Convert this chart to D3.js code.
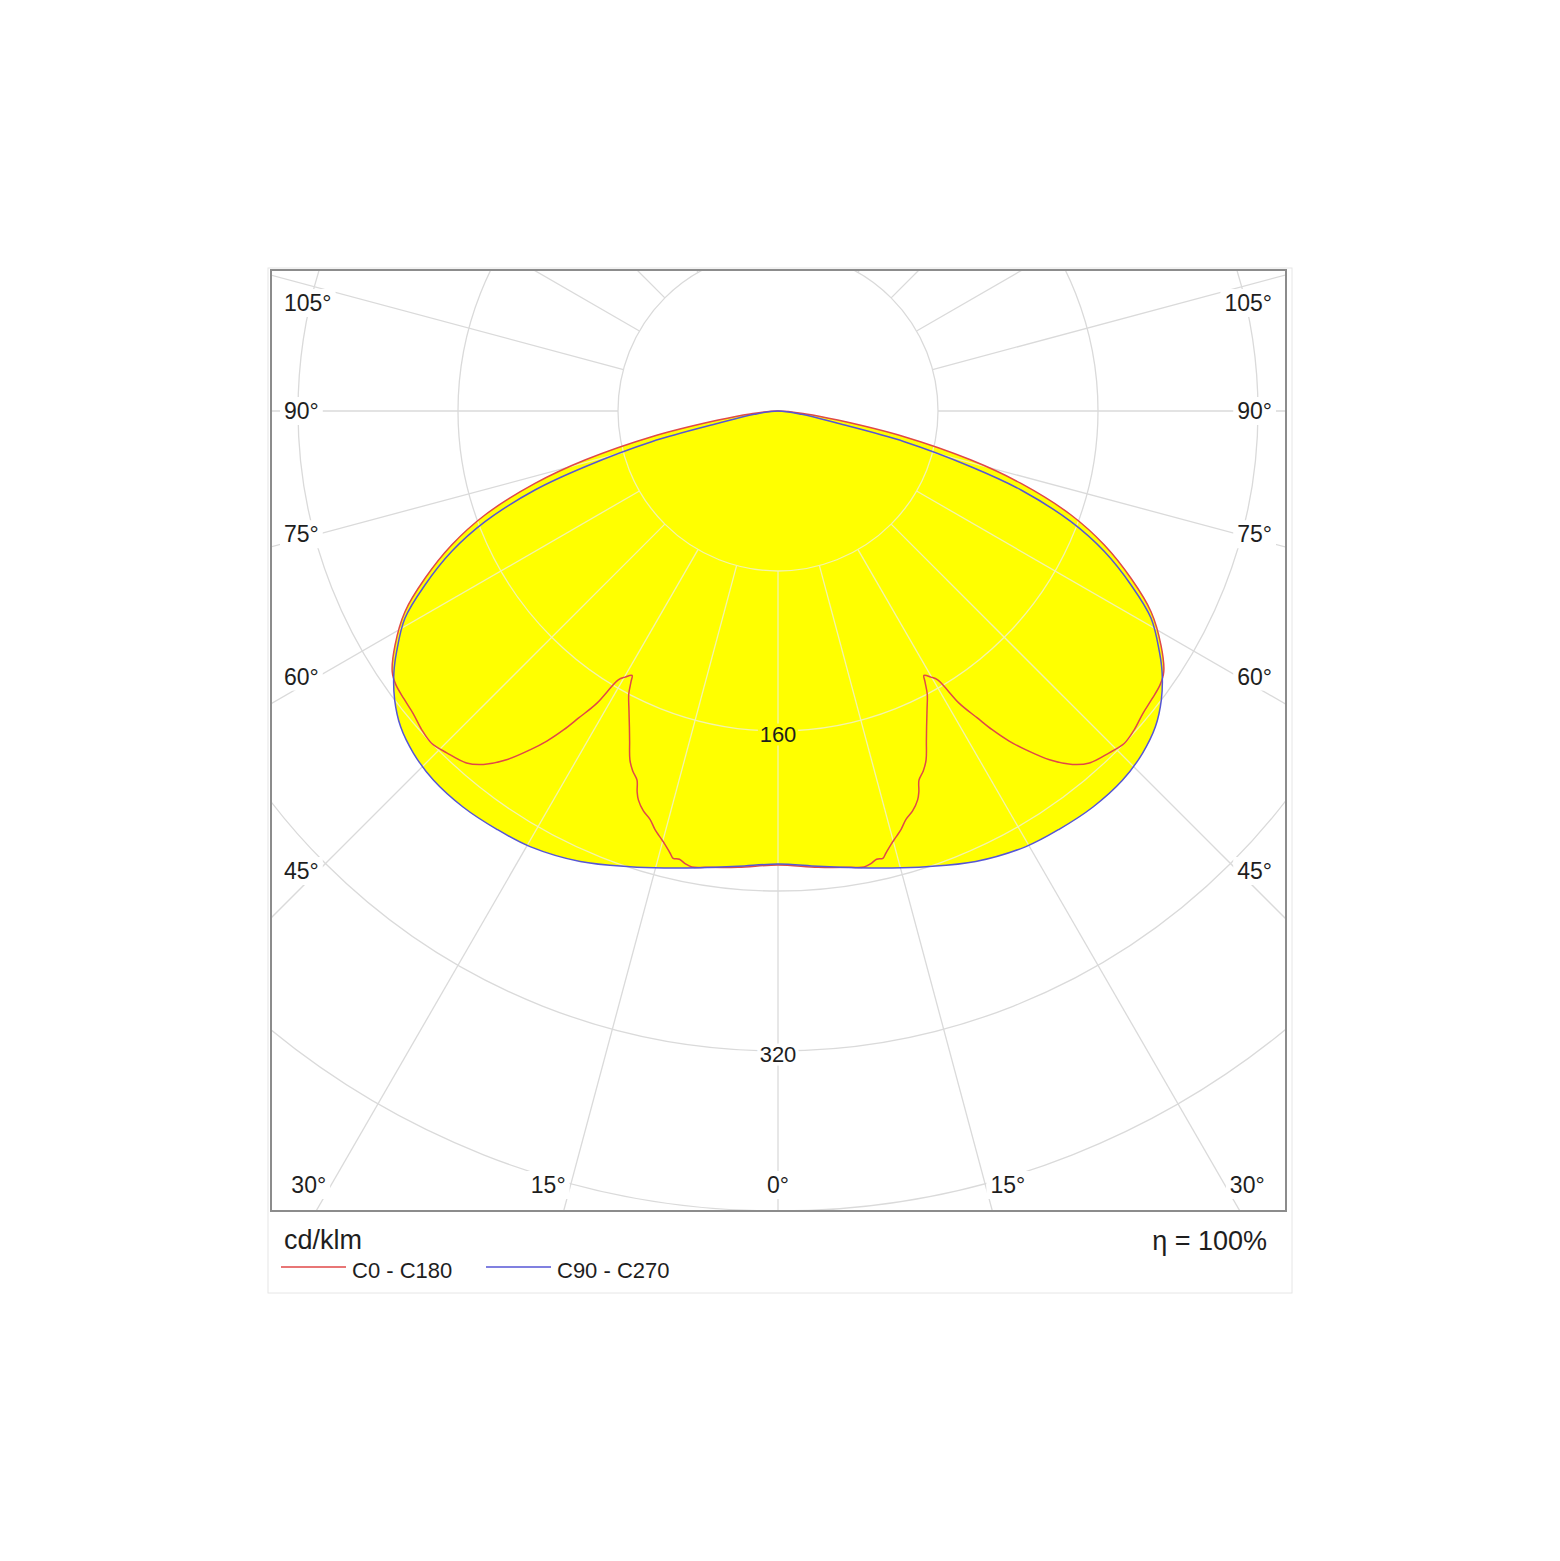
<!DOCTYPE html>
<html>
<head>
<meta charset="utf-8">
<script src="https://cdn.jsdelivr.net/npm/d3@7"></script>
<style>
  body { margin: 0; background: #fff; }
</style>
</head>
<body>
<script>
// luminous intensity, cd/klm, angle gamma measured from nadir (0) to horizontal (90)
const c0Angles = [0, 5, 9, 10.7, 11.6, 12.4, 13.2, 13.7, 14.6, 15.5, 16.4, 17.4, 18.6, 19.75, 20.3, 20.9, 22, 23, 24.2, 25.2,
  26.5, 27.8, 28.5, 28.9, 29.9, 30.7, 31.8, 33, 33.9, 35, 36.2, 37.9, 39.8, 41.5, 44.1, 46.2, 48.2, 50.3, 52.4, 54.4,
  55.95, 58.57, 61.72, 64.64, 67.67, 70.46, 73.4, 75.75, 78.5, 81.4, 84, 90];
const c0Values = [227, 229, 231, 232, 231, 229.5, 229.7, 227.6, 224, 221, 218, 214, 211, 206.6, 203, 197.6, 194, 189.5, 181, 174.5,
  167, 160, 154, 151, 153.5, 156.4, 172, 183, 192, 201.5, 210, 221, 230, 235, 238, 240, 239, 237, 236, 235,
  232.8, 224.4, 211.8, 195.3, 176.4, 155.5, 126.8, 99.6, 64.4, 30.2, 14, 0];

const c90Angles = [0, 5, 9.7, 14, 18, 23.7, 29.65, 33.9, 38.5, 43, 46.8, 50.1, 53, 55.7, 57.74, 60.94, 63.76, 66.7, 69.3, 72, 73.9, 76.34, 78.36, 82, 90];
const c90Values = [226.5, 228.5, 231.7, 235.5, 239.6, 246, 250.6, 252, 253, 252.5, 250, 246, 240, 232.5, 225.5, 213.4, 196.8, 177.7, 156.6, 127.8, 100.4, 65, 30.5, 12, 0];

const radialTicks = [80, 160, 240, 320, 400];
const radialLabels = [160, 320];
const rayAngles = d3.range(0, 181, 15);
const angleLabels = [0, 15, 30, 45, 60, 75, 90, 105];
const legendItems = ['C0 - C180', 'C90 - C270'];
const legendColors = ['#e04848', '#5656d6'];
const unitLabel = 'cd/klm';
const efficiencyLabel = 'η = 100%';

const width = 1560, height = 1561;
const cx = 778, cy = 411;
const frame = { x0: 271, y0: 270, x1: 1286, y1: 1211 };
const font = '"Liberation Sans", Arial, sans-serif';

const rad = (d) => d * Math.PI / 180;
const rScale = d3.scaleLinear().domain([0, 400]).range([0, 800]);

const svg = d3.select('body')
  .append('svg')
  .attr('width', width)
  .attr('height', height);

// outer panel and plot frame
svg.append('rect')
  .attr('x', 268).attr('y', 268)
  .attr('width', 1024).attr('height', 1025)
  .attr('fill', '#fff')
  .attr('stroke', '#e6e6e6');

const defs = svg.append('defs');
defs.append('clipPath').attr('id', 'frameClip')
  .append('rect')
  .attr('x', frame.x0).attr('y', frame.y0)
  .attr('width', frame.x1 - frame.x0).attr('height', frame.y1 - frame.y0);

// closed polar outline: right half 0..90, then left half back down
function outline(angles, values) {
  const right = angles.map((g, i) => [Math.PI - rad(g), rScale(values[i])]);
  const left = [];
  for (let k = angles.length - 2; k >= 1; k--) {
    left.push([Math.PI + rad(angles[k]), rScale(values[k])]);
  }
  return right.concat(left);
}

const lineGen = d3.lineRadial()
  .angle((d) => d[0])
  .radius((d) => d[1])
  .curve(d3.curveCatmullRomClosed.alpha(0.5));

const series = [
  { name: legendItems[0], color: legendColors[0], pts: outline(c0Angles, c0Values) },
  { name: legendItems[1], color: legendColors[1], pts: outline(c90Angles, c90Values) }
];

const fillClip = defs.append('clipPath').attr('id', 'fillClip');
series.forEach((s) => {
  fillClip.append('path')
    .attr('transform', 'translate(' + cx + ',' + cy + ')')
    .attr('d', lineGen(s.pts));
});

const rays = [];
rayAngles.forEach((g) => {
  (g === 0 || g === 180 ? [1] : [-1, 1]).forEach((s) => rays.push({ g: g, s: s }));
});

function drawGrid(g, color) {
  g.selectAll('circle')
    .data(radialTicks)
    .enter()
    .append('circle')
    .attr('cx', cx).attr('cy', cy)
    .attr('r', (d) => rScale(d))
    .attr('fill', 'none')
    .attr('stroke', color)
    .attr('stroke-width', 1.3);

  g.selectAll('line')
    .data(rays)
    .enter()
    .append('line')
    .attr('x1', (d) => cx + d.s * rScale(radialTicks[0]) * Math.sin(rad(d.g)))
    .attr('y1', (d) => cy + rScale(radialTicks[0]) * Math.cos(rad(d.g)))
    .attr('x2', (d) => cx + d.s * rScale(700) * Math.sin(rad(d.g)))
    .attr('y2', (d) => cy + rScale(700) * Math.cos(rad(d.g)))
    .attr('stroke', color)
    .attr('stroke-width', 1.3);
}

const plot = svg.append('g').attr('clip-path', 'url(#frameClip)');

drawGrid(plot.append('g'), '#dadada');

plot.append('g')
  .attr('transform', 'translate(' + cx + ',' + cy + ')')
  .selectAll('path')
  .data(series)
  .enter()
  .append('path')
  .attr('d', (d) => lineGen(d.pts))
  .attr('fill', '#ffff00')
  .attr('stroke', 'none');

drawGrid(plot.append('g').attr('clip-path', 'url(#fillClip)'), '#f3f3ad');

plot.append('g')
  .attr('transform', 'translate(' + cx + ',' + cy + ')')
  .selectAll('path')
  .data(series)
  .enter()
  .append('path')
  .attr('d', (d) => lineGen(d.pts))
  .attr('fill', 'none')
  .attr('stroke', (d) => d.color)
  .attr('stroke-width', 1.5);

// radial value labels on the nadir axis
plot.selectAll('text.rlab')
  .data(radialLabels)
  .enter()
  .append('text')
  .attr('class', 'rlab')
  .attr('x', cx)
  .attr('y', (d) => cy + rScale(d) + 3)
  .attr('text-anchor', 'middle')
  .attr('dominant-baseline', 'central')
  .attr('font-family', font)
  .attr('font-size', 22)
  .attr('fill', '#1e1e1e')
  .attr('stroke', (d) => d < c90Values[0] ? '#ffff00' : '#ffffff')
  .attr('stroke-width', 7)
  .attr('paint-order', 'stroke')
  .text((d) => d);

svg.append('rect')
  .attr('x', frame.x0).attr('y', frame.y0)
  .attr('width', frame.x1 - frame.x0).attr('height', frame.y1 - frame.y0)
  .attr('fill', 'none')
  .attr('stroke', '#8c8c8c')
  .attr('stroke-width', 2);

// angle labels around the frame
const inner = cx - (frame.x0 + 47);
const angleItems = [];
angleLabels.forEach((d) => {
  (d === 0 ? [0] : [-1, 1]).forEach((s) => {
    let x, y, anchor;
    if (d <= 30) {
      y = frame.y1 - 26;
      x = cx + s * (y - cy) * Math.tan(rad(d)) + s * 5;
      anchor = s < 0 ? 'end' : (s > 0 ? 'start' : 'middle');
    } else {
      x = s < 0 ? frame.x0 + 13 : frame.x1 - 14;
      anchor = s < 0 ? 'start' : 'end';
      y = d === 90 ? cy : cy + inner / Math.tan(rad(d));
      y = Math.max(y, frame.y0 + 33);
    }
    angleItems.push({ d: d, x: x, y: y, anchor: anchor });
  });
});

const labG = svg.append('g').selectAll('g')
  .data(angleItems)
  .enter()
  .append('g');

labG.append('rect').attr('fill', '#fff');
labG.append('text')
  .attr('x', (d) => d.x)
  .attr('y', (d) => d.y)
  .attr('text-anchor', (d) => d.anchor)
  .attr('dominant-baseline', 'central')
  .attr('font-family', font)
  .attr('font-size', 23)
  .attr('fill', '#1e1e1e')
  .text((d) => d.d + '°');

labG.each(function() {
  const g = d3.select(this);
  const b = g.select('text').node().getBBox();
  g.select('rect')
    .attr('x', b.x - 4).attr('y', b.y - 1)
    .attr('width', b.width + 8).attr('height', b.height + 2);
});

// legend
svg.append('text')
  .attr('x', 284).attr('y', 1240)
  .attr('dominant-baseline', 'central')
  .attr('font-family', font)
  .attr('font-size', 27)
  .attr('fill', '#1e1e1e')
  .text(unitLabel);

svg.append('text')
  .attr('x', 1267).attr('y', 1241)
  .attr('text-anchor', 'end')
  .attr('dominant-baseline', 'central')
  .attr('font-family', font)
  .attr('font-size', 27)
  .attr('fill', '#1e1e1e')
  .text(efficiencyLabel);

const legendX = d3.scalePoint().domain(legendItems).range([281, 486]);

const leg = svg.append('g').selectAll('g')
  .data(series)
  .enter()
  .append('g')
  .attr('transform', (d) => 'translate(' + legendX(d.name) + ',1267)');

leg.append('line')
  .attr('x1', 0).attr('x2', 65)
  .attr('y1', 0).attr('y2', 0)
  .attr('stroke', (d) => d.color)
  .attr('stroke-width', 1.3);

leg.append('text')
  .attr('x', 71).attr('y', 3)
  .attr('dominant-baseline', 'central')
  .attr('font-family', font)
  .attr('font-size', 22)
  .attr('fill', '#1e1e1e')
  .text((d) => d.name);
</script>
</body>
</html>
